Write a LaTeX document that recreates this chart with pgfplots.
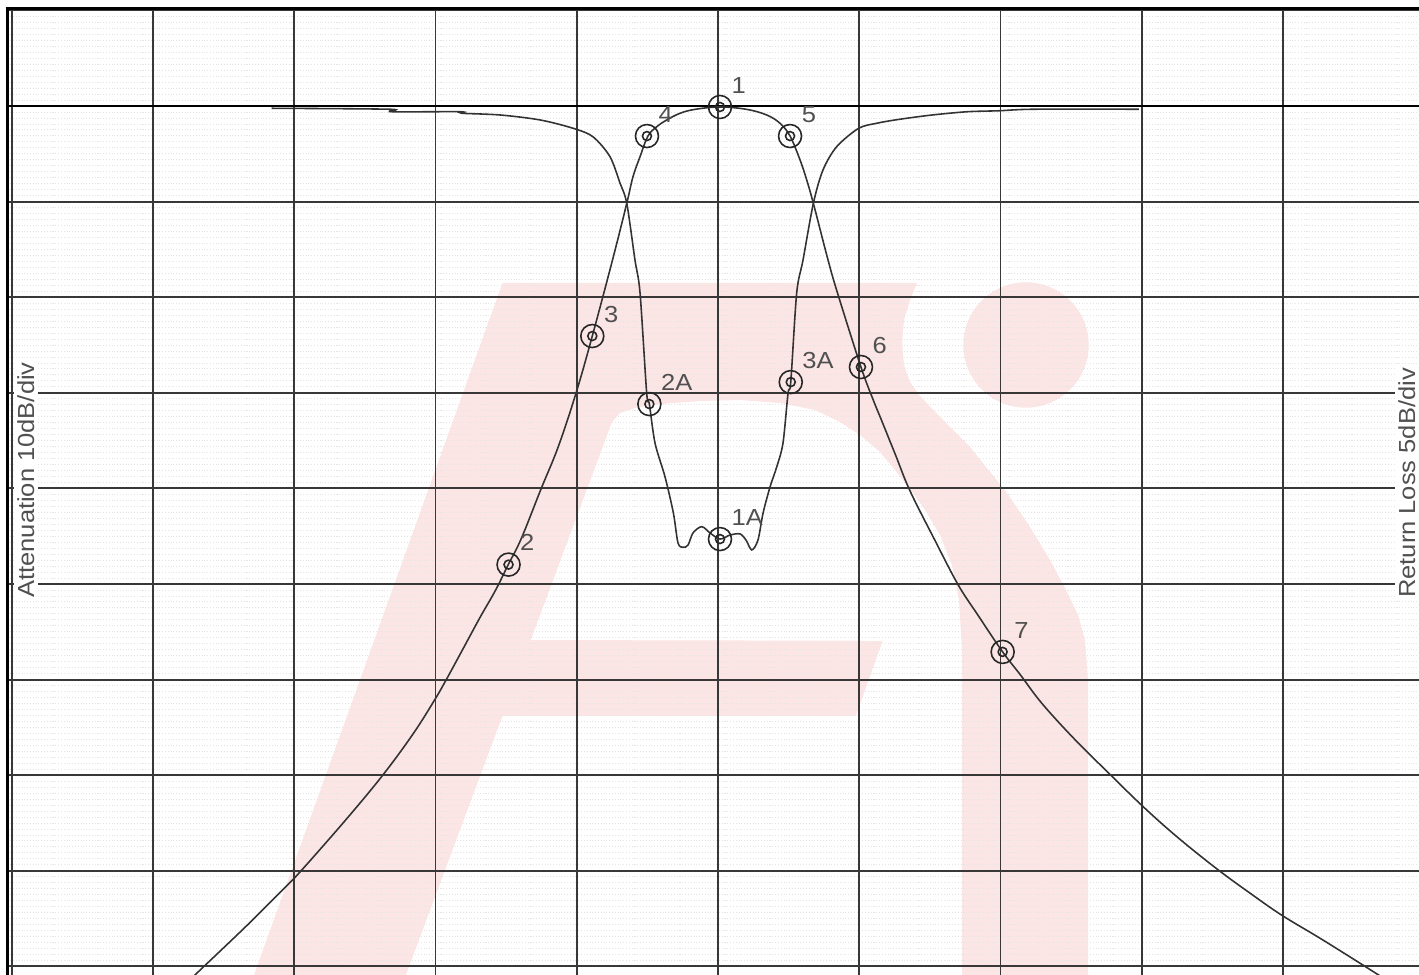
\documentclass[border=0pt]{standalone}
\usepackage{fontspec}
\setmainfont{Liberation Sans}[FakeStretch=1.1]
\usepackage{pgfplots}
\usepackage{pgfplotstable}
\pgfplotsset{compat=1.18}
\definecolor{wm}{RGB}{252,229,229}
\definecolor{txt}{RGB}{80,80,80}

% Attenuation (dB, 10 dB/div), x in grid divisions from centre
\pgfplotstableread{
x y
-3.780 92.00
-3.684 90.63
-3.329 85.63
-3.063 81.70
-2.947 79.92
-2.629 74.56
-2.370 69.93
-2.157 65.64
-2.004 62.07
-1.921 59.93
-1.803 56.72
-1.685 53.50
-1.575 50.65
-1.485 47.97
-1.394 45.29
-1.253 40.06
-1.131 35.64
-1.005 30.02
-0.890 24.06
-0.747 16.11
-0.646 10.18
-0.602 7.40
-0.552 5.30
-0.496 3.14
-0.434 2.17
-0.363 1.46
-0.269 0.76
-0.163 0.35
0.014 0.10
0.203 0.35
0.345 0.94
0.439 1.81
0.510 3.14
0.581 5.65
0.628 7.74
0.675 10.18
0.779 16.11
0.846 19.56
1.012 27.30
1.099 30.75
1.157 32.85
1.258 36.55
1.359 40.25
1.536 45.44
1.699 50.06
1.838 53.21
2.015 57.10
2.141 59.51
2.292 62.47
2.520 66.17
2.772 69.87
3.017 73.39
3.257 76.54
3.538 79.87
3.778 82.46
3.996 84.69
4.287 87.28
4.665 90.79
4.970 93.70
}\attdata

% Return loss (dB, 5 dB/div)
\pgfplotstableread{
x y
-3.160 0.12
-2.322 0.17
-2.310 0.30
-1.827 0.30
-1.815 0.38
-1.543 0.47
-1.260 0.73
-1.024 1.17
-0.885 1.61
-0.765 2.65
-0.694 4.03
-0.646 5.09
-0.588 8.05
-0.552 9.78
-0.505 15.01
-0.486 15.59
-0.446 17.63
-0.375 19.40
-0.316 21.29
-0.283 22.86
-0.246 23.08
-0.212 22.96
-0.177 22.33
-0.115 22.00
-0.057 22.33
0.014 22.65
0.085 22.44
0.156 22.38
0.198 22.70
0.239 23.22
0.283 22.70
0.319 21.29
0.368 19.93
0.416 18.87
0.460 17.63
0.496 15.01
0.515 14.44
0.557 9.78
0.602 8.05
0.675 5.09
0.743 3.35
0.840 2.13
0.995 1.17
1.126 0.90
1.281 0.70
1.517 0.47
1.766 0.30
1.988 0.25
2.236 0.17
2.980 0.17
}\rldata

\pgfplotstableread{
x y
0.014 0.10
-0.503 3.14
0.510 3.14
-0.890 24.06
-1.483 47.97
1.012 27.30
2.015 57.10
}\attmarks

\pgfplotstableread{
x y
-0.486 15.59
0.515 14.44
0.014 22.65
}\rlmarks

\begin{document}
\begin{tikzpicture}
\pgfplotsset{
  frame/.style={width=141.15mm, height=96.65mm, scale only axis,
    at={(0.75mm,0mm)}, anchor=south west},
  nolabels/.style={axis line style={draw=none}, major tick length=0pt, minor tick length=0pt,
    xticklabels={}, yticklabels={}},
}
\tikzset{lab/.style={anchor=south west, inner sep=0pt, xshift=1.1mm, yshift=1.3mm,
    font=\fontsize{6.6}{8}\selectfont, text=txt}}

% ---- watermark (pixel coordinates) ----
\begin{axis}[frame, xmin=7.5, xmax=1419, ymin=8.5, ymax=975, y dir=reverse, hide axis, clip=false]
\addplot[fill=wm, draw=none] coordinates {
(254,975) (502.5,283) (917,283) (910,300) (904,320) (902,343) (904,365) (910,382)
(920,396) (940,417) (970,447) (1007,493) (1030,527) (1050,560) (1066,590) (1078,615)
(1085,640) (1088,680) (1088,975)
(962,975) (962,650) (959,600) (952,565) (940,535) (925,510) (913,493) (895,470)
(880,452) (860,435) (840,422) (815,410) (780,403) (740,400) (700,401) (660,404)
(635,408) (620,413) (612,422) (405.9,975)} -- cycle;
\addplot[fill=wm, draw=none] coordinates {(520,640) (882.6,640.8) (855.8,716) (480,716)} -- cycle;
\addplot[only marks, mark=*, mark size=6.2mm, color=wm, mark options={draw=none, fill=wm}] coordinates {(1026,345)};
\end{axis}

% ---- faint minor grid (below the major grid) ----
\begin{axis}[frame, nolabels, xmin=-5.0301, xmax=4.9628, ymin=-10.199, ymax=90.900, y dir=reverse,
  xtick=\empty, ytick={-10,0,...,90}, minor y tick num=15,
  yminorgrids=true, ymajorgrids=false,
  minor grid style={black!10, line width=0.25pt, dash pattern=on 0.3pt off 0.5pt}]
\end{axis}

% ---- attenuation axis with major grid ----
\begin{axis}[frame, nolabels, xmin=-5.0301, xmax=4.9628, ymin=-10.199, ymax=90.900, y dir=reverse,
  xtick={-5,-4,...,5}, ytick={-10,0,...,90},
  xmajorgrids=true, ymajorgrids=true,
  major grid style={black!78, line width=0.55pt}]
\draw[black, line width=0.8pt] (axis cs:-5.0301,0) -- (axis cs:4.9628,0);
\addplot[black!80, line width=0.45pt, smooth, tension=0.6] table[x=x,y=y] {\attdata};
\addplot[only marks, mark=o, mark size=1.15mm, mark options={black!85, line width=0.45pt}] table[x=x,y=y] {\attmarks};
\addplot[only marks, mark=o, mark size=0.45mm, mark options={black!85, line width=0.45pt}] table[x=x,y=y] {\attmarks};
\node[lab] at (axis cs:0.014,0.10) {1};
\node[lab] at (axis cs:-0.503,3.14) {4};
\node[lab] at (axis cs:0.510,3.14) {5};
\node[lab] at (axis cs:-0.890,24.06) {3};
\node[lab] at (axis cs:-1.483,47.97) {2};
\node[lab] at (axis cs:1.012,27.30) {6};
\node[lab] at (axis cs:2.015,57.10) {7};
\end{axis}

% ---- return loss axis ----
\begin{axis}[frame, xmin=-5.0301, xmax=4.9628, ymin=-5.0993, ymax=45.450, y dir=reverse, hide axis]
\addplot[black!80, line width=0.45pt, smooth, tension=0.5] table[x=x,y=y] {\rldata};
\addplot[only marks, mark=o, mark size=1.15mm, mark options={black!85, line width=0.45pt}] table[x=x,y=y] {\rlmarks};
\addplot[only marks, mark=o, mark size=0.45mm, mark options={black!85, line width=0.45pt}] table[x=x,y=y] {\rlmarks};
\node[lab] at (axis cs:-0.486,15.59) {2A};
\node[lab] at (axis cs:0.515,14.44) {3A};
\node[lab] at (axis cs:0.014,22.65) {1A};
\end{axis}

% ---- frame and side titles (pixel coordinates) ----
\begin{axis}[frame, xmin=7.5, xmax=1419, ymin=8.5, ymax=975, y dir=reverse, hide axis, clip=false]
\draw[black, line width=1.05pt] (axis cs:7.5,975) -- (axis cs:7.5,7.2);
\draw[black, line width=0.8pt] (axis cs:5.6,8.5) -- (axis cs:1419,8.5);
\node[rotate=90, anchor=base, inner sep=1pt, fill=white, font=\fontsize{6.6}{8}\selectfont, text=txt] at (axis cs:34,480) {Attenuation 10dB/div};
\node[rotate=90, anchor=base, inner sep=1pt, fill=white, font=\fontsize{6.6}{8}\selectfont, text=txt] at (axis cs:1415,483) {Return Loss 5dB/div};
\end{axis}

\pgfresetboundingbox
\path (0,0) rectangle (141.9mm,97.5mm);
\end{tikzpicture}
\end{document}
